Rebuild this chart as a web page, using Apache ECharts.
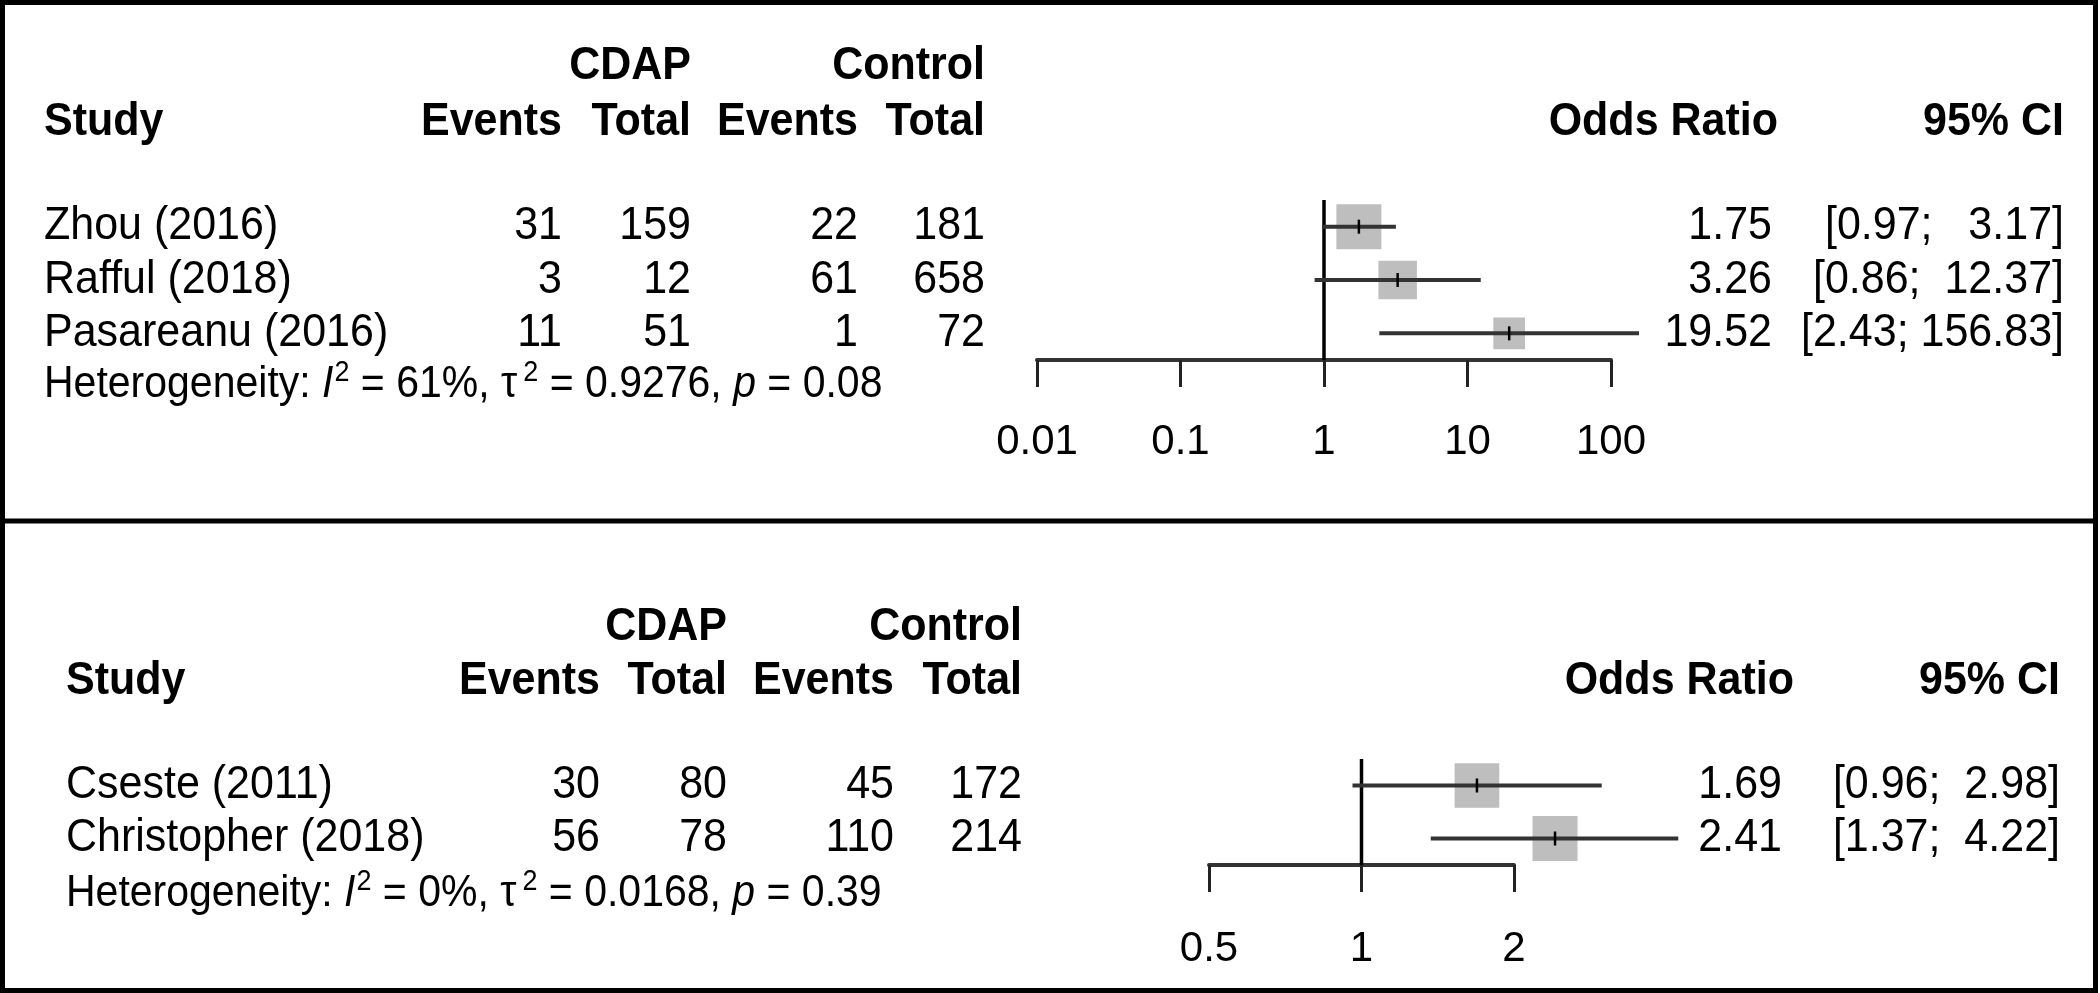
<!DOCTYPE html>
<html>
<head>
<meta charset="utf-8">
<script src="https://cdn.jsdelivr.net/npm/echarts@6/dist/echarts.min.js"></script>
<style>
html,body{margin:0;padding:0;background:#fff;}
#c{width:2100px;height:993px;}
</style>
</head>
<body>
<div id="c"></div>
<script>
// ---------------- data: panel 1 ----------------
const studies1 = ['Zhou (2016)', 'Rafful (2018)', 'Pasareanu (2016)'];
const cdapEvents1 = [31, 3, 11];
const cdapTotal1 = [159, 12, 51];
const ctrlEvents1 = [22, 61, 1];
const ctrlTotal1 = [181, 658, 72];
const or1 = [1.75, 3.26, 19.52];
const lower1 = [0.97, 0.86, 2.43];
const upper1 = [3.17, 12.37, 156.83];
const weight1 = [44.9, 32.9, 22.2];
const ticks1 = [0.01, 0.1, 1, 10, 100];
const tickLabels1 = ['0.01', '0.1', '1', '10', '100'];

// ---------------- data: panel 2 ----------------
const studies2 = ['Cseste (2011)', 'Christopher (2018)'];
const cdapEvents2 = [30, 56];
const cdapTotal2 = [80, 78];
const ctrlEvents2 = [45, 110];
const ctrlTotal2 = [172, 214];
const or2 = [1.69, 2.41];
const lower2 = [0.96, 1.37];
const upper2 = [2.98, 4.22];
const weight2 = [49.6, 50.4];
const ticks2 = [0.5, 1, 2];
const tickLabels2 = ['0.5', '1', '2'];

// heterogeneity statistics
const hetI2 = ['61%', '0%'];
const hetTau2 = ['0.9276', '0.0168'];
const hetP = ['0.08', '0.39'];

// header texts
const groupLabels = ['CDAP', 'Control'];
const colHeaders = ['Study', 'Events', 'Total', 'Events', 'Total', 'Odds Ratio', '95% CI'];

// ---------------- layout (positions/styles only) ----------------
const FONT = "'Liberation Sans', Arial, Helvetica, sans-serif";
const FS = 43;
const SY = 1.07;
const BOX = 45;
const LAYOUT = [
  {top: 200, height: 160, fLeft: 1037, fWidth: 574, hdr1Y: 66, hdr2Y: 122, hetY: 385, hetX: 44,
   cols: {study: 44, ce: 562, ct: 691, ke: 858, kt: 985, or: 1772, ci: 2064}, hdrOr: 1778, hdrCi: 2064,
   labelMargin: 61, ciExtra: 0},
  {top: 759, height: 106, fLeft: 1209, fWidth: 305, hdr1Y: 627, hdr2Y: 681, hetY: 894, hetX: 66,
   cols: {study: 66, ce: 600, ct: 727, ke: 894, kt: 1022, or: 1782, ci: 2060}, hdrOr: 1794, hdrCi: 2060,
   labelMargin: 63, ciExtra: 1}
];

const PANELS = [
  {studies: studies1, ce: cdapEvents1, ct: cdapTotal1, ke: ctrlEvents1, kt: ctrlTotal1, or: or1, lo: lower1, hi: upper1, w: weight1, ticks: ticks1, tickLabels: tickLabels1, logBase: 10},
  {studies: studies2, ce: cdapEvents2, ct: cdapTotal2, ke: ctrlEvents2, kt: ctrlTotal2, or: or2, lo: lower2, hi: upper2, w: weight2, ticks: ticks2, tickLabels: tickLabels2, logBase: 2}
];

function ciText(p, i, extra) {
  const d = PANELS[p];
  const ups = d.hi.map(v => v.toFixed(2));
  const maxLen = Math.max.apply(null, ups.map(s => s.length));
  const pad = ' '.repeat(1 + extra + maxLen - ups[i].length);
  return '[' + d.lo[i].toFixed(2) + ';' + pad + ups[i] + ']';
}

function tickFormatter(p) {
  const d = PANELS[p];
  return function (v) {
    let best = 0, bd = Infinity;
    d.ticks.forEach((t, k) => {
      const dd = Math.abs(Math.log(t) - Math.log(v));
      if (dd < bd) { bd = dd; best = k; }
    });
    return d.tickLabels[best];
  };
}

function txt(text, x, y, align, bold) {
  return {
    type: 'text', x: x, y: y, scaleY: SY, silent: true,
    style: {text: text, fill: '#000', font: (bold ? 'bold ' : '') + FS + 'px ' + FONT,
            textAlign: align, textVerticalAlign: 'middle'}
  };
}

function tableRender(p) {
  return function (params, api) {
    const i = api.value(1);
    const L = LAYOUT[p], c = L.cols, d = PANELS[p];
    const y = api.coord([0, i])[1];
    const X = v => api.coord([v, i])[0];
    return {
      type: 'group',
      children: [
        txt(d.studies[i], X(c.study), y, 'left'),
        txt(String(d.ce[i]), X(c.ce), y, 'right'),
        txt(String(d.ct[i]), X(c.ct), y, 'right'),
        txt(String(d.ke[i]), X(c.ke), y, 'right'),
        txt(String(d.kt[i]), X(c.kt), y, 'right'),
        txt(d.or[i].toFixed(2), X(c.or), y, 'right'),
        txt(ciText(p, i, L.ciExtra), X(c.ci), y, 'right')
      ]
    };
  };
}

function forestRender(p) {
  const maxW = Math.max.apply(null, PANELS[p].w);
  return function (params, api) {
    const row = api.value(1);
    const c0 = api.coord([api.value(0), row]);
    const xl = api.coord([api.value(2), row])[0];
    const xh = api.coord([api.value(3), row])[0];
    const s = BOX * Math.sqrt(api.value(4) / maxW);
    const xo = c0[0], y = c0[1];
    return {
      type: 'group',
      children: [
        {type: 'rect', shape: {x: xo - s / 2, y: y - s / 2, width: s, height: s}, style: {fill: '#BEBEBE'}},
        {type: 'line', shape: {x1: xl, y1: y, x2: xh, y2: y}, style: {stroke: '#333', lineWidth: 4}},
        {type: 'line', shape: {x1: xo, y1: y - 7, x2: xo, y2: y + 7}, style: {stroke: '#000', lineWidth: 2.5}}
      ]
    };
  };
}

function refRender(params, api) {
  const cs = params.coordSys;
  const x = api.coord([api.value(0), 0])[0];
  return {type: 'line', shape: {x1: x, y1: cs.y, x2: x, y2: cs.y + cs.height}, style: {stroke: '#000', lineWidth: 3.5}};
}

const grids = [], xAxes = [], yAxes = [], series = [];
PANELS.forEach((d, p) => {
  const L = LAYOUT[p];
  const gT = grids.length;
  grids.push({left: 0, top: L.top, width: 2100, height: L.height});
  grids.push({left: L.fLeft, top: L.top, width: L.fWidth, height: L.height});
  xAxes.push({gridIndex: gT, type: 'value', min: 0, max: 2100, show: false});
  xAxes.push({
    gridIndex: gT + 1, type: 'log', logBase: d.logBase, min: d.ticks[0], max: d.ticks[d.ticks.length - 1],
    position: 'bottom',
    axisLine: {show: true, onZero: false, lineStyle: {color: '#333', width: 4}},
    axisTick: {show: true, inside: false, length: 27, lineStyle: {color: '#222', width: 3}},
    axisLabel: {show: true, margin: L.labelMargin, fontSize: 42, fontFamily: FONT, color: '#000',
                formatter: tickFormatter(p), showMinLabel: true, showMaxLabel: true},
    splitLine: {show: false}, minorTick: {show: false}, minorSplitLine: {show: false}
  });
  yAxes.push({gridIndex: gT, type: 'category', data: d.studies, inverse: true, show: false});
  yAxes.push({gridIndex: gT + 1, type: 'category', data: d.studies, inverse: true, show: false});

  series.push({
    type: 'custom', xAxisIndex: gT, yAxisIndex: gT, silent: true,
    encode: {x: 0, y: 1},
    data: d.studies.map((s, i) => [0, i]),
    renderItem: tableRender(p)
  });
  series.push({
    type: 'custom', xAxisIndex: gT + 1, yAxisIndex: gT + 1, silent: true, z: 1, clip: false,
    encode: {x: 0, y: 1},
    data: [[1, 0]],
    renderItem: refRender
  });
  series.push({
    type: 'custom', xAxisIndex: gT + 1, yAxisIndex: gT + 1, silent: true, z: 2, clip: false,
    encode: {x: [0, 2, 3], y: 1},
    data: d.or.map((v, i) => [v, i, d.lo[i], d.hi[i], d.w[i]]),
    renderItem: forestRender(p)
  });
});

// graphic: frame, divider, headers, heterogeneity
const graphics = [
  {type: 'rect', silent: true, shape: {x: 2.5, y: 2.5, width: 2093, height: 988},
   style: {fill: null, stroke: '#000', lineWidth: 5}, z: 100},
  {type: 'line', silent: true, shape: {x1: 0, y1: 521, x2: 2098, y2: 521},
   style: {stroke: '#000', lineWidth: 5}, z: 100}
];
LAYOUT.forEach((L, p) => {
  const c = L.cols;
  graphics.push(txt(groupLabels[0], c.ct, L.hdr1Y, 'right', true));
  graphics.push(txt(groupLabels[1], c.kt, L.hdr1Y, 'right', true));
  graphics.push(txt(colHeaders[0], c.study, L.hdr2Y, 'left', true));
  graphics.push(txt(colHeaders[1], c.ce, L.hdr2Y, 'right', true));
  graphics.push(txt(colHeaders[2], c.ct, L.hdr2Y, 'right', true));
  graphics.push(txt(colHeaders[3], c.ke, L.hdr2Y, 'right', true));
  graphics.push(txt(colHeaders[4], c.kt, L.hdr2Y, 'right', true));
  graphics.push(txt(colHeaders[5], L.hdrOr, L.hdr2Y, 'right', true));
  graphics.push(txt(colHeaders[6], L.hdrCi, L.hdr2Y, 'right', true));
  graphics.push({
    type: 'text', x: L.hetX, y: L.hetY, scaleY: SY, silent: true,
    style: {
      text: 'Heterogeneity: {it|I}{sup|2} = ' + hetI2[p] + ', \u03C4{supt|2} = ' + hetTau2[p] + ', {it|p} = ' + hetP[p],
      fill: '#000', fontSize: 41, fontFamily: FONT, lineHeight: 50,
      textAlign: 'left', textVerticalAlign: 'middle',
      rich: {
        it: {fontStyle: 'italic', fontSize: 41, fontFamily: FONT, lineHeight: 50},
        sup: {fontSize: 27, fontFamily: FONT, lineHeight: 27, verticalAlign: 'top', padding: [0, 0, 0, 1]},
        supt: {fontSize: 27, fontFamily: FONT, lineHeight: 27, verticalAlign: 'top', padding: [0, 0, 0, 6]}
      }
    }
  });
});

const chart = echarts.init(document.getElementById('c'), null, {renderer: 'canvas'});
chart.setOption({
  animation: false,
  backgroundColor: '#fff',
  grid: grids,
  xAxis: xAxes,
  yAxis: yAxes,
  series: series,
  graphic: graphics
});
</script>
</body>
</html>
